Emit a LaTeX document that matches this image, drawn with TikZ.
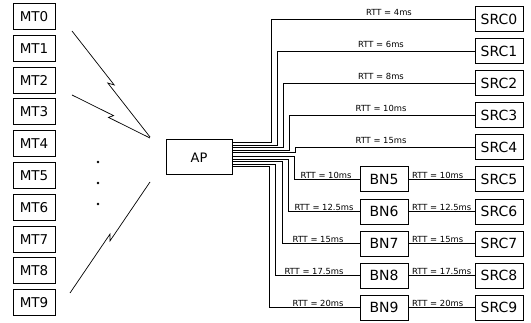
\documentclass[tikz,border=0pt]{standalone}
\usepackage{fontspec}
\setmainfont{DejaVu Sans}
\usetikzlibrary{calc}

\begin{document}
\begin{tikzpicture}[x=1pt,y=-1pt,
  mtbox/.style={draw,line width=1pt,minimum width=42pt,minimum height=26pt,inner sep=0pt,font=\fontsize{13.5}{15}\selectfont},
  srcbox/.style={draw,line width=1pt,minimum width=48pt,minimum height=25pt,inner sep=0pt,font=\fontsize{14}{16}\selectfont},
  apbox/.style={draw,line width=1pt,minimum width=66pt,minimum height=35pt,inner sep=0pt,font=\fontsize{13}{15}\selectfont},
  wire/.style={line width=0.8pt},
  bolt/.style={line width=0.7pt},
  lbl/.style={inner sep=0pt,font=\fontsize{8.4}{9}\selectfont}]
\useasboundingbox (0,0) rectangle (531,323);
% mobile terminals
\node[mtbox] (mt0) at (34,16.5) {MT0};
\node[mtbox] (mt1) at (34,48.3) {MT1};
\node[mtbox] (mt2) at (34,80.1) {MT2};
\node[mtbox] (mt3) at (34,111.9) {MT3};
\node[mtbox] (mt4) at (34,143.7) {MT4};
\node[mtbox] (mt5) at (34,175.5) {MT5};
\node[mtbox] (mt6) at (34,207.3) {MT6};
\node[mtbox] (mt7) at (34,239.1) {MT7};
\node[mtbox] (mt8) at (34,270.9) {MT8};
\node[mtbox] (mt9) at (34,302.7) {MT9};
% radio links
\coordinate (w0a) at (72,31);
\coordinate (w0b) at (150,137);
\coordinate (w1a) at (72,95);
\coordinate (w1b) at (150,138);
\coordinate (w2a) at (70,293);
\coordinate (w2b) at (150,182);
\draw[bolt] (w0a) -- ($(w0a)!0.52!(w0b)!2pt!90:(w0b)$) -- ($(w0a)!0.48!(w0b)!2pt!-90:(w0b)$) -- (w0b);
\draw[bolt] (w1a) -- ($(w1a)!0.52!(w1b)!2pt!90:(w1b)$) -- ($(w1a)!0.48!(w1b)!2pt!-90:(w1b)$) -- (w1b);
\draw[bolt] (w2a) -- ($(w2a)!0.52!(w2b)!2pt!90:(w2b)$) -- ($(w2a)!0.48!(w2b)!2pt!-90:(w2b)$) -- (w2b);
\fill (98,162) circle (1.3);
\fill (98,183) circle (1.3);
\fill (98,204) circle (1.3);
% access point
\node[apbox] (ap) at (199,157.5) {AP};
% sources
\node[srcbox] (src0) at (499,19) {SRC0};
\node[srcbox] (src1) at (499,51.1) {SRC1};
\node[srcbox] (src2) at (499,83.2) {SRC2};
\node[srcbox] (src3) at (499,115.3) {SRC3};
\node[srcbox] (src4) at (499,147.4) {SRC4};
\node[srcbox] (src5) at (499,179.5) {SRC5};
\node[srcbox] (src6) at (499,211.6) {SRC6};
\node[srcbox] (src7) at (499,243.7) {SRC7};
\node[srcbox] (src8) at (499,275.8) {SRC8};
\node[srcbox] (src9) at (499,307.9) {SRC9};
% bottleneck nodes
\node[srcbox] (bn5) at (384,179.5) {BN5};
\node[srcbox] (bn6) at (384,211.6) {BN6};
\node[srcbox] (bn7) at (384,243.7) {BN7};
\node[srcbox] (bn8) at (384,275.8) {BN8};
\node[srcbox] (bn9) at (384,307.9) {BN9};
% bends
\coordinate (k0) at (271,19);
\coordinate (k1) at (277,51.1);
\coordinate (k2) at (283,83.2);
\coordinate (k3) at (289,115.3);
\coordinate (k4) at (295,147.4);
\coordinate (k5) at (294,179.5);
\coordinate (k6) at (288,211.6);
\coordinate (k7) at (282,243.7);
\coordinate (k8) at (275,275.8);
\coordinate (k9) at (269,307.9);
\draw[wire] ([yshift=-3pt]ap.north east) -| (k0) -- (src0);
\draw[wire] ([yshift=-5.5pt]ap.north east) -| (k1) -- (src1);
\draw[wire] ([yshift=-8pt]ap.north east) -| (k2) -- (src2);
\draw[wire] ([yshift=-10.5pt]ap.north east) -| (k3) -- (src3);
\draw[wire] ([yshift=-13pt]ap.north east) -| (k4) -- (src4);
\draw[wire] ([yshift=-17pt]ap.north east) -| (k5) -- (bn5);
\draw[wire] ([yshift=-19.5pt]ap.north east) -| (k6) -- (bn6);
\draw[wire] ([yshift=-22pt]ap.north east) -| (k7) -- (bn7);
\draw[wire] ([yshift=-24.5pt]ap.north east) -| (k8) -- (bn8);
\draw[wire] ([yshift=-27pt]ap.north east) -| (k9) -- (bn9);
\draw[wire] (bn5) -- (src5);
\draw[wire] (bn6) -- (src6);
\draw[wire] (bn7) -- (src7);
\draw[wire] (bn8) -- (src8);
\draw[wire] (bn9) -- (src9);
% delays
\node[lbl] (t0) at (389,12.5) {RTT = 4ms};
\node[lbl] (t1) at (381,44.6) {RTT = 6ms};
\node[lbl] (t2) at (381,76.7) {RTT = 8ms};
\node[lbl] (t3) at (381,108.8) {RTT = 10ms};
\node[lbl] (t4) at (381,140.9) {RTT = 15ms};
\node[lbl] (t5) at (326,175) {RTT = 10ms};
\node[lbl] (t6) at (324,207.1) {RTT = 12.5ms};
\node[lbl] (t7) at (318,239.2) {RTT = 15ms};
\node[lbl] (t8) at (314,271.3) {RTT = 17.5ms};
\node[lbl] (t9) at (318,303.4) {RTT = 20ms};
\node[lbl,anchor=west] (u5) at (412,175) {RTT = 10ms};
\node[lbl,anchor=west] (u6) at (412,207.1) {RTT = 12.5ms};
\node[lbl,anchor=west] (u7) at (412,239.2) {RTT = 15ms};
\node[lbl,anchor=west] (u8) at (412,271.3) {RTT = 17.5ms};
\node[lbl,anchor=west] (u9) at (412,303.4) {RTT = 20ms};
\end{tikzpicture}
\end{document}
